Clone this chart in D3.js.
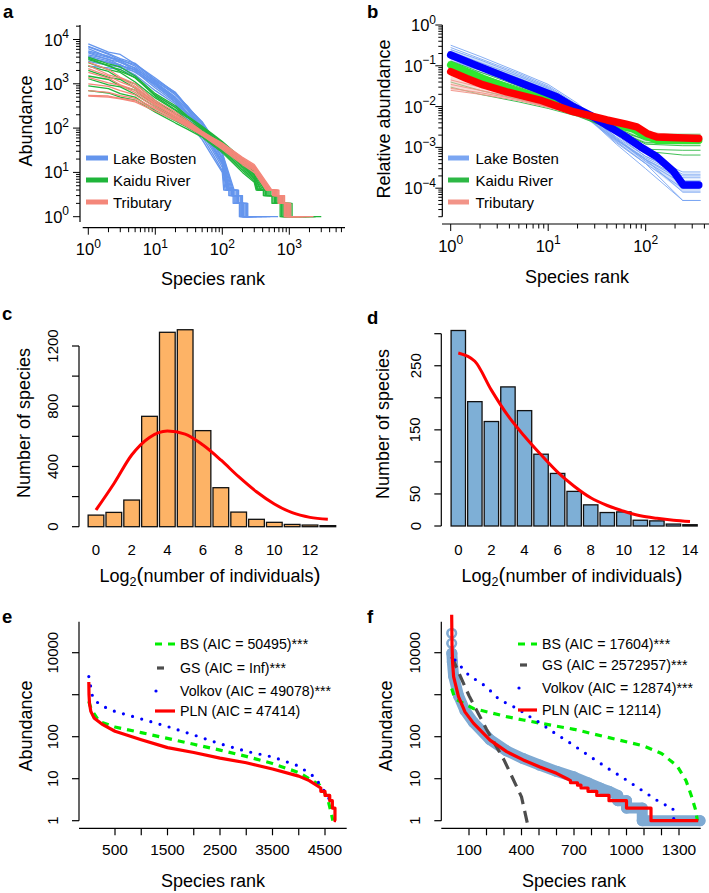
<!DOCTYPE html>
<html><head><meta charset="utf-8">
<script src="https://cdn.jsdelivr.net/npm/d3@7"></script>
<style>body{margin:0;background:#fff}svg{display:block}text{font-family:'Liberation Sans',Arial,Helvetica,sans-serif;fill:#000}</style>
</head><body><script>
// ================= DATA =================
// Panel a: rank-abundance curves (head values at fixed ranks, tail = ranks where abundance steps to 4,3,2,1 and end rank)
const aRanksLake = [1,2,3,5,10,20,30,50,70,100];
const lakeHeads = [
 [8000,5200,4600,2800,1350,620,300,140,65,28],
 [7000,4800,3700,2900,1200,560,320,120,60,25],
 [6200,4000,3500,2500,1150,600,280,125,52,22],
 [5500,4200,3000,2300,1050,480,260,100,50,20],
 [5000,3500,3100,2000,1000,450,230,105,42,18],
 [4500,3600,2600,2100,880,420,215,88,40,16],
 [4000,3000,2700,1800,950,390,200,80,37,15],
 [3600,3100,2300,1900,800,380,175,75,33,13],
 [3200,2600,2400,1600,700,350,160,65,28,11],
 [2500,2300,2100,1500,550,300,140,55,24,10],
 [6800,4600,3400,2700,1250,640,310,135,62,26],
 [5200,3900,3300,2200,1100,500,270,110,52,21],
 [4200,3300,2500,2050,980,440,220,95,45,17]
];
const lakeTails = [
 [150,175,200,240,320],[140,165,190,230,290],[135,160,185,220,460],[130,150,175,210,270],
 [125,145,170,205,260],[120,140,165,200,250],[118,138,160,195,390],[115,135,155,190,245],
 [110,130,150,185,240],[105,125,145,180,680],[145,170,195,235,330],[128,148,172,208,520],
 [122,142,168,200,280]
];
const aRanksRiver = [1,2,3,5,10,20,30,50,70,100,200,300];
const riverHeads = [
 [4000,2800,2400,1500,600,320,190,110,75,50,20,11],
 [3500,2600,1900,1400,520,260,175,100,68,45,18,10],
 [3000,2100,1800,1100,480,250,150,95,64,42,16,9],
 [2500,1900,1300,1000,420,210,150,88,60,40,15,8.5],
 [2000,1400,1250,800,380,205,135,85,57,38,14,8],
 [1500,1250,900,720,330,175,125,78,53,35,13,7.5],
 [1300,950,850,580,300,160,112,72,50,32,12,7],
 [900,780,600,500,250,145,105,66,45,30,11,6.5],
 [700,620,500,430,230,130,95,62,42,28,10,6],
 [3800,2500,2100,1350,560,290,180,105,72,48,19,10.5]
];
const riverTails = [
 [450,600,800,1100,2000],[420,560,750,1000,1500],[400,530,700,950,3000],[380,500,680,900,1300],
 [370,480,650,870,2500],[350,460,620,830,1200],[340,440,600,800,1100],[330,420,570,760,1800],
 [320,410,550,730,1000],[430,580,780,1050,2400]
];
const aRanksTrib = [1,2,3,5,10,20,30,50,70,100,200,300];
const tribHeads = [
 [3100,2100,1400,1000,420,230,150,85,62,46,22,15],
 [2600,1600,1350,880,390,200,140,82,60,44,21,14],
 [2200,1500,1100,820,360,210,135,80,58,42,20,13.5],
 [1800,1350,950,720,350,185,130,78,56,40,19,13],
 [1400,1050,920,640,330,185,125,76,55,39,18.5,12.5],
 [1000,870,700,560,300,175,120,74,53,38,18,12],
 [700,640,540,470,280,160,115,72,52,36,17,11.5],
 [550,530,470,420,270,160,112,70,50,35,16,11],
 [530,500,460,390,240,150,108,68,48,33,15,10]
];
const tribTails = [
 [550,700,850,1050,1600],[530,680,830,1000,2300],[520,660,800,980,1400],[500,640,780,950,2000],
 [490,620,760,930,1200],[480,600,740,900,1700],[470,590,720,880,1100],[460,580,700,860,1000],
 [450,560,680,840,1500]
];
const groupNames = ["Lake Bosten","Kaidu River","Tributary"];

// Panel b: relative abundance
const bRanks = [1,2,5,10,20,50,100,240,365];
const lakeRel = [
 [0.32,0.17,0.07,0.035,0.012,0.0017,0.0005,0.00008,0.00008],
 [0.28,0.15,0.065,0.032,0.011,0.0016,0.00045,0.00013,0.00013],
 [0.25,0.14,0.06,0.03,0.010,0.0015,0.0005,0.00018,0.00018],
 [0.22,0.12,0.055,0.028,0.009,0.0013,0.0004,0.00005,0.00005],
 [0.2,0.11,0.05,0.026,0.0095,0.0018,0.0006,0.00022,0.00022],
 [0.18,0.1,0.048,0.025,0.01,0.002,0.0006,0.00025,0.00025],
 [0.15,0.09,0.045,0.024,0.009,0.0012,0.0003,0.00005,0.00005],
 [0.13,0.085,0.043,0.023,0.0085,0.0014,0.0004,0.0001,0.0001],
 [0.12,0.08,0.04,0.022,0.008,0.0016,0.0005,0.00015,0.00015],
 [0.1,0.07,0.038,0.021,0.0075,0.0015,0.00055,0.0002,0.0002]
];
const riverRel = [
 [0.13,0.07,0.032,0.017,0.009,0.0035,0.0021,0.0021,0.0021],
 [0.12,0.06,0.03,0.016,0.0085,0.0033,0.0018,0.0018,0.0018],
 [0.1,0.05,0.025,0.014,0.0075,0.003,0.0015,0.0014,0.0014],
 [0.09,0.045,0.022,0.013,0.007,0.0028,0.0012,0.0011,0.0011],
 [0.08,0.04,0.02,0.012,0.0068,0.0027,0.0009,0.00085,0.00085],
 [0.06,0.035,0.018,0.011,0.0065,0.0026,0.0008,0.00065,0.00065],
 [0.04,0.025,0.015,0.010,0.006,0.0025,0.0013,0.0013,0.0013],
 [0.03,0.02,0.013,0.009,0.0058,0.0025,0.0016,0.0016,0.0016]
];
const tribRel = [
 [0.09,0.045,0.022,0.013,0.0075,0.004,0.0023,0.002,0.002],
 [0.075,0.04,0.02,0.012,0.007,0.0038,0.0022,0.0018,0.0018],
 [0.06,0.034,0.018,0.011,0.0068,0.0037,0.0021,0.0017,0.0017],
 [0.045,0.03,0.017,0.0105,0.0066,0.0039,0.0024,0.0019,0.0019],
 [0.035,0.025,0.016,0.0100,0.0065,0.0038,0.0022,0.0016,0.0016],
 [0.028,0.022,0.015,0.0098,0.0064,0.0036,0.0020,0.0015,0.0015],
 [0.025,0.02,0.014,0.0095,0.0063,0.0035,0.002,0.0017,0.0017]
];
const lakeLo  = [0.12,0.075,0.038,0.021,0.0075,0.0013,0.0004,0.00008,0.00008];
const lakeHi  = [0.25,0.14,0.06,0.03,0.011,0.0018,0.00055,0.00016,0.00016];
const riverLo = [0.06,0.035,0.019,0.012,0.0065,0.0027,0.0012,0.0011,0.0011];
const riverHi = [0.12,0.06,0.03,0.016,0.0085,0.0035,0.0019,0.0019,0.0019];
const tribLo  = [0.025,0.02,0.014,0.0095,0.0063,0.0035,0.002,0.0016,0.0016];
const tribHi  = [0.075,0.04,0.02,0.012,0.0072,0.0039,0.0023,0.0019,0.0019];
const lakeMeanRank = [1,1.7,3.75,8.2,12.2,18.1,26.8,39.8,59,88,130,192,243,350];
const lakeMean     = [0.184,0.11,0.052,0.025,0.0175,0.01,0.0062,0.0035,0.002,0.00104,0.00059,0.00026,0.00012,0.00012];
const riverMeanRank = [1,2.16,4.5,10,23,50,74,95,130,350];
const riverMean     = [0.105,0.049,0.0255,0.0145,0.0068,0.0035,0.0029,0.002,0.0015,0.0015];
const tribMeanRank = [1,1.46,2.16,3.75,8.2,18.1,40,63,81,103,130,350];
const tribMean     = [0.072,0.049,0.034,0.023,0.0145,0.0075,0.0047,0.0037,0.0032,0.0022,0.0018,0.00166];

// Panel c: octave histogram
const cOctaves = [0,1,2,3,4,5,6,7,8,9,10,11,12,13];
const cCounts  = [77,95,177,733,1291,1308,638,259,97,49,29,15,11,7];
const cFit     = [111,285,476,593,635,615,542,443,332,232,151,93,62,49];
// Panel d
const dOctaves = [0,1,2,3,4,5,6,7,8,9,10,11,12,13,14];
const dCounts  = [305,194,163,217,180,112,82,54,33,21,22,9,8,3,2];
const dFit     = [270,257,212,172,140,111,84,62,44,32,23,16,12,9,7];

// Panel e: fitted rank-abundance models [rank, abundance]
const ePLN = [[1,2000],[5,1000],[15,600],[40,400],[100,280],[250,200],[500,135],[1000,85],[1500,55],[2000,42],[2500,31],[3000,24],[3500,17],[4000,11.5],[4200,9],[4420,6],[4420,5],[4500,5],[4500,4],[4590,4],[4590,3],[4640,3],[4640,2],[4690,2],[4690,1],[4710,1]];
const eBS = [[1,700],[50,440],[200,230],[500,170],[1000,125],[1500,91],[2000,66],[2500,48],[3000,34],[3500,23],[4000,14],[4200,10],[4400,7],[4500,4.5],[4560,3],[4620,1.5],[4650,1]];
const eVolkov = [[1,2700],[80,800],[250,540],[500,400],[1000,265],[1500,175],[2000,110],[2500,68],[3000,45],[3500,33],[4000,20],[4300,11],[4450,6],[4600,3],[4650,2]];
const eLegend = ["BS (AIC = 50495)***","GS (AIC = Inf)***","Volkov (AIC = 49078)***","PLN (AIC = 47414)"];

// Panel f
const fObs = [[1,29000],[1,16700],[2,9700],[5,6000],[12,2800],[40,950],[77,420],[125,220],[220,85],[315,46],[410,30],[505,21],[600,15],[700,11],[780,8],[850,6],[900,5],[950,4],[950,3],[1000,3],[1000,2],[1090,2],[1090,1],[1420,1]];
const fPLN = [[1,80000],[3,15000],[6,6000],[12,2700],[40,900],[77,390],[125,210],[220,83],[315,44],[410,28],[505,19],[600,13.4],[660,10],[680,9],[680,8],[720,8],[720,7],[740,7],[740,6],[780,6],[780,5],[830,5],[830,4],[900,4],[900,3],[1000,3],[1000,2],[1140,2],[1140,1],[1410,1]];
const fBS = [[1,1400],[20,800],[125,470],[315,300],[410,250],[505,210],[700,150],[900,95],[1100,60],[1200,40],[1290,20],[1340,9],[1370,4],[1395,1.8],[1405,1]];
const fGS = [[1,8000],[100,950],[200,150],[300,28],[400,3.7],[440,0.66]];
const fVolkov = [[20,6700],[106,2700],[163,2000],[210,1400],[258,870],[315,620],[380,460],[430,330],[480,250],[535,175],[580,130],[680,70],[800,32],[900,17],[1000,9.3],[1100,4.9],[1200,2.6],[1265,2],[1270,1.1]];
const fLegend = ["BS (AIC = 17604)***","GS (AIC = 2572957)***","Volkov (AIC = 12874)***","PLN (AIC = 12114)"];

// ================= DRAWING =================
const W = 709, H = 893;
const svg = d3.select('body').append('svg').attr('width', W).attr('height', H);
const colA = ['#6495ED', '#1FB53A', '#F4877A'];
const colThin = ['#7BA6F2', '#2DB845', '#F29488'];
const colMean = ['#0000FF', '#2EE82E', '#FF0000'];
const colBand = ['#A9C4F5', '#9CE59C', '#F8BDB6'];

function ln(x1,y1,x2,y2,w){ return svg.append('line').attr('x1',x1).attr('y1',y1).attr('x2',x2).attr('y2',y2).attr('stroke','#000').attr('stroke-width',w||1.2); }
function txt(x,y,s,size,anchor,rot){
  const t = svg.append('text').attr('x',x).attr('y',y).attr('font-size',size).attr('text-anchor',anchor||'middle');
  if(rot) t.attr('transform',`rotate(-90,${x},${y})`);
  if(s!==null) t.text(s);
  return t;
}
function powTxt(x,y,e,anchor){
  const t = txt(x,y,null,16.5,anchor);
  t.append('tspan').text('10');
  t.append('tspan').attr('font-size',12).attr('dy',-7.5).text(e<0 ? '\u2212'+(-e) : String(e));
  return t;
}
function logTicks(lo,hi){
  const out=[];
  for(let d=Math.floor(Math.log10(lo))-1; d<=Math.ceil(Math.log10(hi)); d++)
    for(let k=1;k<10;k++){ const v=k*Math.pow(10,d); if(v>=lo*0.999 && v<=hi*1.001) out.push({v, major:k===1}); }
  return out;
}
function letter(x,y,s){ txt(x,y,s,18.5,'start').attr('font-weight','bold'); }

// ---------- Panel a ----------
letter(3,17.5,'a');
const aX = d3.scaleLog().domain([1,1000]).range([88.3,289.3]);
const aY = d3.scaleLog().domain([1,10000]).range([216.7,39.5]);
ln(80,25,80,222);
logTicks(1,20000).forEach(t=>ln(80-(t.major?7:4),aY(t.v),80,aY(t.v),1));
[0,1,2,3,4].forEach(e=>powTxt(69,aY(Math.pow(10,e))+6,e,'end'));
ln(82.7,227.7,345,227.7);
logTicks(1,6000).forEach(t=>ln(aX(t.v),227.7,aX(t.v),227.7+(t.major?7:4.5),1));
[0,1,2,3].forEach(e=>powTxt(aX(Math.pow(10,e)),255,e,'middle'));
txt(213,285,'Species rank',18);
txt(31.5,121,'Abundance',18,'middle',true);

function buildCurve(ranks, head, tail){
  const pts = head.map((v,i)=>[ranks[i], v]);
  const [r4,r3,r2,r1,re] = tail;
  pts.push([r4,4],[r3,4],[r3,3],[r2,3],[r2,2],[r1,2],[r1,1],[re,1]);
  return pts;
}
const aLine = d3.line().x(d=>aX(d[0])).y(d=>aY(d[1]));
const aGroups = [[aRanksLake,lakeHeads,lakeTails],[aRanksRiver,riverHeads,riverTails],[aRanksTrib,tribHeads,tribTails]];
aGroups.forEach(([rk,heads,tails],gi)=>{
  heads.forEach((h,i)=>{
    svg.append('path').attr('d',aLine(buildCurve(rk,h,tails[i]))).attr('fill','none')
      .attr('stroke',colA[gi]).attr('stroke-width',1.3).attr('stroke-linejoin','round');
  });
});
const aLegY = [158,180,202];
groupNames.forEach((n,i)=>{
  svg.append('line').attr('x1',86).attr('x2',108).attr('y1',aLegY[i]).attr('y2',aLegY[i]).attr('stroke',colA[i]).attr('stroke-width',5);
  txt(113,aLegY[i]+5.5,n,15,'start');
});

// ---------- Panel b ----------
letter(367,17.5,'b');
const bX = d3.scaleLog().domain([1,100]).range([450.7,645.7]);
const bY = d3.scaleLog().domain([1e-4,1]).range([188.2,25]);
ln(442.3,25,442.3,216.7);
logTicks(2e-5,1).forEach(t=>ln(442.3-(t.major?7:4),bY(t.v),442.3,bY(t.v),1));
[0,-1,-2,-3,-4].forEach(e=>powTxt(436,bY(Math.pow(10,e))+6,e,'end'));
ln(442,224,709,224);
logTicks(1,400).forEach(t=>ln(bX(t.v),224,bX(t.v),224+(t.major?7:4.5),1));
[0,1,2].forEach(e=>powTxt(bX(Math.pow(10,e)),251.5,e,'middle'));
txt(577,283,'Species rank',18);
txt(390,119,'Relative abundance',18,'middle',true);

const bLine = d3.line().x(d=>bX(d[0])).y(d=>bY(d[1]));
const bArea = d3.area().x(d=>bX(d.r)).y0(d=>bY(d.lo)).y1(d=>bY(d.hi));
const bands = [[lakeLo,lakeHi],[riverLo,riverHi],[tribLo,tribHi]];
const thin = [lakeRel, riverRel, tribRel];
thin.forEach((set,gi)=>{
  svg.append('path').attr('d',bArea(bRanks.map((r,i)=>({r,lo:bands[gi][0][i],hi:bands[gi][1][i]}))))
     .attr('fill',colBand[gi]).attr('opacity',0.55);
  set.forEach(arr=>{
    svg.append('path').attr('d',bLine(arr.map((v,i)=>[bRanks[i],v]))).attr('fill','none')
       .attr('stroke',colThin[gi]).attr('stroke-width',1).attr('opacity',0.9);
  });
});
const means = [[riverMeanRank,riverMean,1],[lakeMeanRank,lakeMean,0],[tribMeanRank,tribMean,2]];
means.forEach(([rk,vals,gi])=>{
  svg.append('path').attr('d',bLine(vals.map((v,i)=>[rk[i],v]))).attr('fill','none')
     .attr('stroke',colMean[gi]).attr('stroke-width',7.5).attr('stroke-linecap','round').attr('stroke-linejoin','round');
});
groupNames.forEach((n,i)=>{
  svg.append('line').attr('x1',448).attr('x2',469).attr('y1',aLegY[i]).attr('y2',aLegY[i]).attr('stroke',colThin[i]).attr('stroke-width',5);
  txt(475.5,aLegY[i]+5.5,n,15,'start');
});

// ---------- Log2 label helper ----------
function log2Label(cx,y){
  const t = txt(cx,y,null,18,'middle');
  t.append('tspan').text('Log');
  t.append('tspan').attr('font-size',12.5).attr('dy',4).text('2');
  t.append('tspan').attr('font-size',21).attr('dy',-4).text('(');
  t.append('tspan').text('number of individuals');
  t.append('tspan').attr('font-size',21).text(')');
}

// ---------- Panel c ----------
letter(2,320,'c');
const cX = d3.scaleLinear().domain([0,12]).range([96,310]);
const cY = d3.scaleLinear().domain([0,1200]).range([526.7,346]);
const cBW = cX(0.88)-cX(0);
ln(79,cY(0),79,cY(1200));
d3.range(0,1201,200).forEach(v=>ln(72,cY(v),79,cY(v)));
[0,400,800,1200].forEach(v=>txt(58,cY(v),String(v),15,'middle',true));
svg.selectAll('rect.c').data(cOctaves).enter().append('rect')
  .attr('x',d=>cX(d)-cBW/2).attr('y',(d,i)=>cY(cCounts[i])).attr('width',cBW).attr('height',(d,i)=>cY(0)-cY(cCounts[i]))
  .attr('fill','#FDB366').attr('stroke','#111').attr('stroke-width',1.3);
svg.append('path').attr('d',d3.line().curve(d3.curveMonotoneX).x((d,i)=>cX(cOctaves[i])).y(d=>cY(d))(cFit))
  .attr('fill','none').attr('stroke','#FF0000').attr('stroke-width',3);
[0,2,4,6,8,10,12].forEach(v=>txt(cX(v),555,String(v),15));
log2Label(210,581.5);
txt(29.5,423,'Number of species',18,'middle',true);

// ---------- Panel d ----------
letter(367,324,'d');
const dX = d3.scaleLinear().domain([0,14]).range([458.3,690]);
const dY = d3.scaleLinear().domain([0,300]).range([526,333.7]);
const dBW = dX(0.87)-dX(0);
ln(441.3,dY(0),441.3,dY(300));
d3.range(0,301,50).forEach(v=>ln(434.3,dY(v),441.3,dY(v)));
[0,50,150,250].forEach(v=>txt(420.5,dY(v),String(v),15,'middle',true));
svg.selectAll('rect.d').data(dOctaves).enter().append('rect')
  .attr('x',d=>dX(d)-dBW/2).attr('y',(d,i)=>dY(dCounts[i])).attr('width',dBW).attr('height',(d,i)=>dY(0)-dY(dCounts[i]))
  .attr('fill','#7EAFD6').attr('stroke','#111').attr('stroke-width',1.3);
svg.append('path').attr('d',d3.line().curve(d3.curveMonotoneX).x((d,i)=>dX(dOctaves[i])).y(d=>dY(d))(dFit))
  .attr('fill','none').attr('stroke','#FF0000').attr('stroke-width',3);
[0,2,4,6,8,10,12,14].forEach(v=>txt(dX(v),555,String(v),15));
log2Label(572,581.5);
txt(388.5,424,'Number of species',18,'middle',true);

// ---------- Panels e & f shared styling ----------
const styBS = {stroke:'#00EE00', dash:'7 6', cap:'butt'};
const styGS = {stroke:'#4D4D4D', dash:'12 7', cap:'butt'};
const styV  = {stroke:'#0000FF', dash:'0 9.5', cap:'round'};
const styP  = {stroke:'#FF0000', dash:null, cap:'butt'};
function drawCurve(g, gen, data, sty, w){
  const p = g.append('path').attr('d',gen(data)).attr('fill','none').attr('stroke',sty.stroke)
    .attr('stroke-width',w||3.2).attr('stroke-linecap',sty.cap).attr('stroke-linejoin','round');
  if(sty.dash) p.attr('stroke-dasharray',sty.dash);
  return p;
}
function legendRows(x0,x1,tx,ys,labels){
  const st=[styBS,styGS,styV,styP];
  labels.forEach((lab,i)=>{
    const y=ys[i];
    let a=x0,b=x1;
    if(i===1){ a=x0+2; b=x0+9; }
    if(i===2){ a=x0+1; b=x0+12; }
    const l=svg.append('line').attr('x1',a).attr('x2',b).attr('y1',y).attr('y2',y).attr('stroke',st[i].stroke)
      .attr('stroke-width',3.2).attr('stroke-linecap',st[i].cap);
    if(i===0) l.attr('stroke-dasharray','7 6');
    if(i===2) l.attr('stroke-dasharray','0 11');
    txt(tx,y+5,lab,14.2,'start');
  });
}

// ---------- Panel e ----------
letter(2,623,'e');
const eX = d3.scaleLinear().domain([0,4500]).range([88.75,325]);
const eY = d3.scaleLog().domain([1,10000]).range([820.7,652.7]);
ln(79,621.7,79,820.7);
[1,10,100,1000,10000].forEach(v=>ln(72,eY(v),79,eY(v)));
[[1,'1'],[10,'10'],[100,'100'],[10000,'10000']].forEach(([v,s])=>txt(58,eY(v),s,15,'middle',true));
ln(79,828.3,346.7,828.3);
d3.range(500,4501,500).forEach(v=>ln(eX(v),828.3,eX(v),835.3));
[500,1500,2500,3500,4500].forEach(v=>txt(eX(v),855,String(v),15.5));
txt(213,886.5,'Species rank',18);
txt(31.5,726,'Abundance',18,'middle',true);
const eGen = d3.line().x(d=>eX(d[0])).y(d=>eY(d[1]));
const eG = svg.append('g');
drawCurve(eG,eGen,eBS,styBS);
drawCurve(eG,eGen,eVolkov,styV);
drawCurve(eG,eGen,ePLN,styP);
legendRows(155,175,180,[644,668,691,711],eLegend);

// ---------- Panel f ----------
letter(367,623,'f');
const fX = d3.scaleLinear().domain([0,1300]).range([451.5,679]);
const fY = d3.scaleLog().domain([1,10000]).range([820.7,652.7]);
ln(441.3,621.7,441.3,820.7);
[1,10,100,1000,10000].forEach(v=>ln(434.3,fY(v),441.3,fY(v)));
[[1,'1'],[10,'10'],[100,'100'],[10000,'10000']].forEach(([v,s])=>txt(420.5,fY(v),s,15,'middle',true));
ln(441.3,828.3,700.7,828.3);
d3.range(100,1301,100).forEach(v=>ln(fX(v),828.3,fX(v),835.3));
[100,400,700,1000,1300].forEach(v=>txt(fX(v),855,String(v),15.5));
txt(574,886.5,'Species rank',18);
txt(392,726,'Abundance',18,'middle',true);
svg.append('clipPath').attr('id','fclip').append('rect').attr('x',442).attr('y',600).attr('width',267).attr('height',227.5);
const fG = svg.append('g').attr('clip-path','url(#fclip)');
const fGen = d3.line().x(d=>fX(d[0])).y(d=>fY(d[1]));
// observed data
fG.append('path').attr('d',fGen(fObs.slice(2))).attr('fill','none').attr('stroke','#7FAAD3')
  .attr('stroke-width',11).attr('stroke-linecap','round').attr('stroke-linejoin','round');
fG.selectAll('circle.obs').data(fObs).enter().append('circle')
  .attr('cx',d=>fX(d[0])).attr('cy',d=>fY(d[1])).attr('r',4.3)
  .attr('fill','none').attr('stroke','#7FAAD3').attr('stroke-width',2.6);
drawCurve(fG,fGen,fBS,styBS);
drawCurve(fG,fGen,fGS,styGS);
drawCurve(fG,fGen,fVolkov,styV);
drawCurve(svg,fGen,fPLN,styP);
legendRows(518,537,542,[644,665,688,710],fLegend);
</script></body></html>
